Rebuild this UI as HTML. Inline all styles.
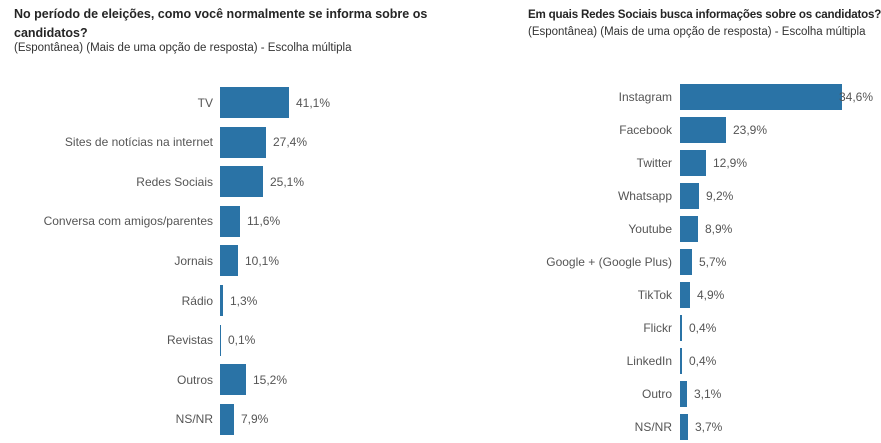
<!DOCTYPE html>
<html><head><meta charset="utf-8"><style>
body{margin:0;width:881px;height:443px;background:#fff;position:relative;overflow:hidden;font-family:"Liberation Sans",sans-serif;color:#333}
.t{position:absolute;font-size:12.5px;font-weight:bold;color:#252525;line-height:19px}
.s{position:absolute;font-size:11.5px;color:#333;line-height:16px;white-space:nowrap}
.b{position:absolute;background:#2a73a6}
.l{position:absolute;font-size:12px;color:#555;text-align:right;width:300px;line-height:14px}
.v{position:absolute;font-size:12px;color:#555;line-height:14px}
</style></head><body>
<div class="t" style="left:14px;top:5px;width:420px">No período de eleições, como você normalmente se informa sobre os candidatos?</div>
<div class="s" style="left:14px;top:40px">(Espontânea) (Mais de uma opção de resposta) - Escolha múltipla</div>
<div class="t" style="left:528px;top:5px;white-space:nowrap;font-size:11.6px;letter-spacing:-0.2px">Em quais Redes Sociais busca informações sobre os candidatos?</div>
<div class="s" style="left:528px;top:24px">(Espontânea) (Mais de uma opção de resposta) - Escolha múltipla</div>
<div id="c"></div>
<script>
var L=[["TV",41.1,69],["Sites de notícias na internet",27.4,46],["Redes Sociais",25.1,43],["Conversa com amigos/parentes",11.6,20],["Jornais",10.1,18],["Rádio",1.3,3],["Revistas",0.1,1],["Outros",15.2,26],["NS/NR",7.9,14]];
var R=[["Instagram",34.6,162],["Facebook",23.9,46],["Twitter",12.9,26],["Whatsapp",9.2,19],["Youtube",8.9,18],["Google + (Google Plus)",5.7,12],["TikTok",4.9,10],["Flickr",0.4,2],["LinkedIn",0.4,2],["Outro",3.1,7],["NS/NR",3.7,8]];
var h="";
L.forEach(function(d,i){var c=102.5+39.6*i;
h+='<div class="l" style="left:-87px;top:'+(c-7)+'px">'+d[0]+'</div>';
h+='<div class="b" style="left:220px;top:'+(c-15.5)+'px;width:'+d[2]+'px;height:31px"></div>';
h+='<div class="v" style="left:'+(227+d[2])+'px;top:'+(c-7)+'px">'+d[1].toFixed(1).replace(".",",")+'%</div>';});
R.forEach(function(d,i){var c=97+33*i;
h+='<div class="l" style="left:372px;top:'+(c-7)+'px">'+d[0]+'</div>';
h+='<div class="b" style="left:680px;top:'+(c-13)+'px;width:'+d[2]+'px;height:26px"></div>';
h+='<div class="v" style="left:'+(i==0?839:(687+d[2]))+'px;top:'+(c-7)+'px">'+d[1].toFixed(1).replace(".",",")+'%</div>';});
document.getElementById("c").innerHTML=h;
</script>
</body></html>
